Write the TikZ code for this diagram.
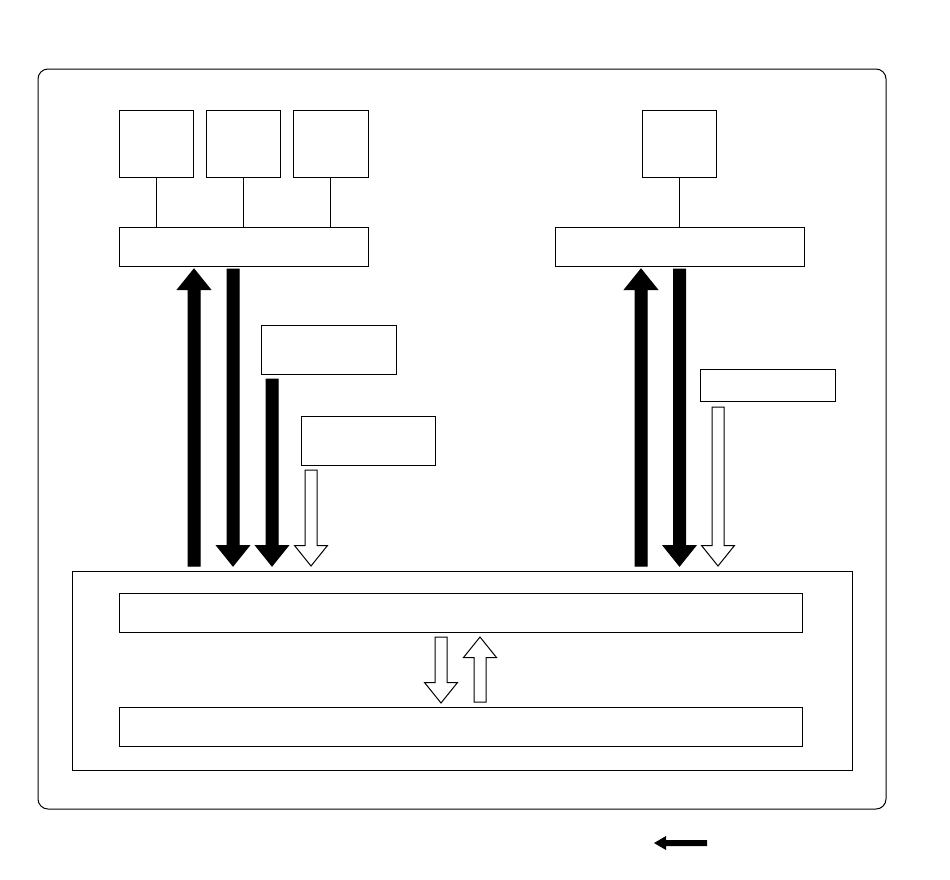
\documentclass[tikz,border=0pt]{standalone}
\usetikzlibrary{calc}
\tikzset{
  box/.style={draw=black, line width=1pt, fill=white, inner sep=0pt, outer sep=0pt},
  link/.style={draw=black, line width=1pt},
  blackarrow/.style={draw=black, fill=black, line width=1pt, line join=miter},
  hollowarrow/.style={draw=black, fill=white, line width=1pt, line join=miter},
}
% #1 style, #2 centre x, #3 tail y, #4 tip y
\newcommand{\myvarrow}[4]{%
  \pgfmathsetmacro\myvab{#4-20.5*sign(#4-#3)}%
  \draw[#1] (#2-6,#3) -- (#2+6,#3) -- (#2+6,\myvab) -- (#2+16.5,\myvab) -- (#2,#4)
    -- (#2-16.5,\myvab) -- (#2-6,\myvab) -- cycle;}
\begin{document}
\begin{tikzpicture}[x=1pt,y=-1pt]
\useasboundingbox (0,0) rectangle (950,879);
\fill[white] (0,0) rectangle (950,879);
% outer frame
\node[box, rounded corners=10pt, minimum width=848pt, minimum height=740pt] (frame) at (462,439) {};
% top left group
\node[box, minimum width=74pt, minimum height=67pt] (t1) at (156,143.5) {};
\node[box, minimum width=74pt, minimum height=67pt] (t2) at (243,143.5) {};
\node[box, minimum width=75pt, minimum height=67pt] (t3) at (330.5,143.5) {};
\node[box, minimum width=249pt, minimum height=39pt] (bl) at (243.5,246.5) {};
% top right group
\node[box, minimum width=74pt, minimum height=67pt] (tr) at (679,143.5) {};
\node[box, minimum width=249pt, minimum height=39pt] (br) at (679.5,246.5) {};
% label boxes
\node[box, minimum width=135pt, minimum height=49pt] (m1) at (328.5,349.5) {};
\node[box, minimum width=134pt, minimum height=49pt] (m2) at (368,440.5) {};
\node[box, minimum width=135pt, minimum height=32pt] (m3) at (767.5,385) {};
% bottom block
\node[box, minimum width=780pt, minimum height=199pt] (big) at (462,670.5) {};
\node[box, minimum width=683pt, minimum height=39pt] (i1) at (460.5,612.5) {};
\node[box, minimum width=683pt, minimum height=39pt] (i2) at (460.5,726.5) {};
% connectors
\draw[link] (t1.south) -- (t1.south |- bl.north);
\draw[link] (t2.south) -- (t2.south |- bl.north);
\draw[link] (t3.south) -- (t3.south |- bl.north);
\draw[link] (tr.south) -- (tr.south |- br.north);
% block arrows, left
\myvarrow{blackarrow}{194}{566}{269}
\myvarrow{blackarrow}{233}{269}{566}
\myvarrow{blackarrow}{272}{379}{566}
\myvarrow{hollowarrow}{311}{470}{566}
% block arrows, right
\myvarrow{blackarrow}{641}{566}{269}
\myvarrow{blackarrow}{679.5}{269}{566}
\myvarrow{hollowarrow}{718}{407}{566}
% block arrows, middle
\myvarrow{hollowarrow}{441}{637}{703}
\myvarrow{hollowarrow}{480}{702}{637}
% small arrow at bottom
\coordinate (la) at (707,843);
\coordinate (lb) at (654,843);
\fill[black] (la) ++(0,-3) -- ++(-41,0) -- ++(0,-4) -- (lb) -- ++(12,7) -- ++(0,-4) -- ++(41,0) -- cycle;
\end{tikzpicture}
\end{document}
